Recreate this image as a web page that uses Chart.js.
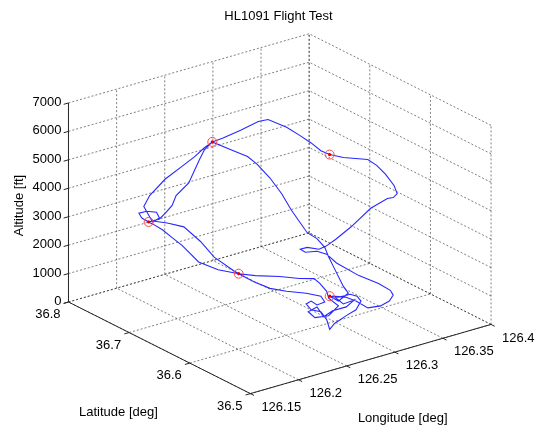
<!DOCTYPE html>
<html><head><meta charset="utf-8">
<script src="https://cdn.jsdelivr.net/npm/chart.js@4/dist/chart.umd.min.js"></script>
<style>html,body{margin:0;padding:0;background:#fff;}canvas{display:block;}</style>
</head><body>
<canvas id="c" width="537" height="430"></canvas>
<script>
// ---------- data ----------
const chartTitle = 'HL1091 Flight Test';
const lonTitle = 'Longitude [deg]';
const latTitle = 'Latitude [deg]';
const altTitle = 'Altitude [ft]';

const lonTicks = [126.15, 126.2, 126.25, 126.3, 126.35, 126.4];
const lonTickLabels = ['126.15', '126.2', '126.25', '126.3', '126.35', '126.4'];
const latTicks = [36.5, 36.6, 36.7, 36.8];
const latTickLabels = ['36.5', '36.6', '36.7', '36.8'];
const altTicks = [0, 1000, 2000, 3000, 4000, 5000, 6000, 7000];
const altTickLabels = ['0', '1000', '2000', '3000', '4000', '5000', '6000', '7000'];

// flight track (longitude deg, latitude deg, altitude ft)
const lon = [126.3304,126.3349,126.3465,126.3485,126.3447,126.3299,126.3158,126.2978,126.2869,126.2977,
  126.3041,126.3002,126.3046,126.3117,126.3105,126.3195,126.3246,126.3113,126.2896,126.2713,
  126.2543,126.2437,126.2203,126.2028,126.2023,126.1986,126.1987,126.1962,126.1961,126.1967,
  126.2012,126.2089,126.2141,126.2084,126.1987,126.1984,126.1978,126.2075,126.2165,126.2227,
  126.2258,126.2313,126.2397,126.2541,126.2736,126.2789,126.2846,126.2865,126.2878,126.2877,
  126.2922,126.3012,126.3185,126.3204,126.3221,126.3201,126.3155,126.3115,126.3101,126.3012,
  126.2938,126.2892,126.2849,126.2803,126.2788,126.2717,126.2748,126.2876,126.2940,126.3001,
  126.3170,126.3309,126.3371,126.3365,126.3299,126.3251,126.3216,126.3303,126.3358,126.3330,
  126.3292,126.3414,126.3273,126.3131,126.2996,126.3079,126.2957,126.2925,126.3041,126.3234,
  126.3272,126.3311,126.3294,126.3244,126.3073,126.2858,126.2596,126.2437,126.2406,126.2306,
  126.2272,126.2204,126.2071,126.2000,126.1961,126.2034,126.2074,126.2110,126.2153,126.2216,
  126.2296,126.2307,126.2313,126.2445,126.2615,126.2688,126.2780,126.2838,126.2872,126.2943,
  126.3042,126.3128,126.3176,126.3229,126.3336,126.3391,126.3298,126.3304];
const lat = [36.6556,36.6483,36.6474,36.6392,36.6267,36.6114,36.6051,36.5958,36.5866,36.6087,
  36.6284,36.6383,36.6535,36.6566,36.6450,36.6464,36.6609,36.6640,36.6619,36.6603,
  36.6608,36.6681,36.6648,36.6692,36.6958,36.7062,36.7224,36.7346,36.7410,36.7532,
  36.7651,36.7645,36.7566,36.7426,36.7386,36.7526,36.7420,36.7316,36.7184,36.7073,
  36.6962,36.6919,36.6875,36.6814,36.6832,36.6755,36.6540,36.6360,36.6186,36.6024,
  36.5951,36.5867,36.5739,36.5623,36.5505,36.5329,36.5207,36.5208,36.5282,36.5416,
  36.5621,36.5806,36.5899,36.5938,36.6108,36.6109,36.6077,36.6086,36.6028,36.5963,
  36.5861,36.5758,36.5663,36.5605,36.5565,36.5634,36.5787,36.6120,36.6384,36.6533,
  36.6312,36.6329,36.6233,36.6234,36.6165,36.6409,36.6360,36.6198,36.6156,36.6301,
  36.6522,36.6617,36.6703,36.6719,36.6690,36.6671,36.6659,36.6681,36.6713,36.6877,
  36.7048,36.7215,36.7278,36.7406,36.7410,36.7347,36.7314,36.7259,36.7262,36.7153,
  36.7103,36.7039,36.6919,36.6822,36.6817,36.6773,36.6709,36.6608,36.6501,36.6354,
  36.6350,36.6358,36.6369,36.6373,36.6381,36.6388,36.6402,36.6556];
const alt = [0,0,0,0,0,0,0,0,0,0,
  0,0,0,0,0,0,0,200,500,800,
  1200,1500,1900,2300,2600,2800,2900,3000,3000,3000,
  3000,3000,3000,3000,3000,3400,3900,4500,5000,5400,
  5800,6000,6100,6300,6400,6500,6400,6300,6200,6100,
  6000,5900,5800,5700,5500,5300,5200,5100,5000,4600,
  3800,3200,2900,2800,2700,2700,2600,2500,2400,2100,
  1600,1300,1100,1000,900,700,500,300,100,0,
  0,0,0,0,0,0,0,0,0,0,
  0,100,300,500,700,1000,1300,1500,1600,2000,
  2400,2800,3000,3000,3000,3100,3300,3600,3900,4400,
  5200,5600,6000,5700,5300,5000,4500,4000,3500,2800,
  2500,2100,1700,1300,500,200,0,0];

// waypoints (red markers)
const wpLon = [126.2313, 126.2922, 126.1961, 126.2437, 126.3304];
const wpLat = [36.6919, 36.5951, 36.7410, 36.6681, 36.6556];
const wpAlt = [6000, 6000, 3000, 1500, 0];

// ---------- view (orthographic 3-D box projected to the canvas plane) ----------
const LON0 = 126.15, LON1 = 126.4, LAT0 = 36.5, LAT1 = 36.8, ALT0 = 0, ALT1 = 7000;
const ORIGIN = [250, 398.3];          // front-bottom corner (LON0, LAT0, ALT0)
const VLON = [245.7, -71.0];          // full longitude span
const VLAT = [-185.7, -94.0];         // full latitude span
const VALT = [0, -204.3];             // full altitude span
function proj(lo, la, al) {
  const u = (lo - LON0) / (LON1 - LON0), v = (la - LAT0) / (LAT1 - LAT0), w = (al - ALT0) / (ALT1 - ALT0);
  return { x: ORIGIN[0] + u * VLON[0] + v * VLAT[0] + w * VALT[0],
           y: ORIGIN[1] + u * VLON[1] + v * VLAT[1] + w * VALT[1] };
}

const datasets = [];
const GRID = 'rgba(0,0,0,0.5)';
function seg(a, b, color, dash, order) {
  datasets.push({ data: [proj(...a), proj(...b)], showLine: true, borderColor: color, borderWidth: 1,
    borderDash: dash, pointRadius: 0, fill: false, tension: 0, order: order });
}
// floor grid
lonTicks.forEach(t => seg([t, LAT0, ALT0], [t, LAT1, ALT0], GRID, [2, 2], 10));
latTicks.forEach(t => seg([LON0, t, ALT0], [LON1, t, ALT0], GRID, [2, 2], 10));
// back wall lat = LAT1
lonTicks.forEach(t => seg([t, LAT1, ALT0], [t, LAT1, ALT1], GRID, [2, 2], 10));
altTicks.forEach(t => seg([LON0, LAT1, t], [LON1, LAT1, t], GRID, [2, 2], 10));
// side wall lon = LON1
latTicks.forEach(t => seg([LON1, t, ALT0], [LON1, t, ALT1], GRID, [2, 2], 10));
altTicks.forEach(t => seg([LON1, LAT0, t], [LON1, LAT1, t], GRID, [2, 2], 10));
// axis lines
const AX = '#262626';
seg([LON0, LAT1, ALT0], [LON0, LAT1, ALT1], AX, [], 5);
seg([LON0, LAT0, ALT0], [LON0, LAT1, ALT0], AX, [], 5);
seg([LON0, LAT0, ALT0], [LON1, LAT0, ALT0], AX, [], 5);
// tick marks (outward)
const dLon = (LON1 - LON0) * 0.02, dLat = (LAT1 - LAT0) * 0.02;
altTicks.forEach(t => seg([LON0, LAT1, t], [LON0 - dLon, LAT1, t], AX, [], 5));
latTicks.forEach(t => seg([LON0, t, ALT0], [LON0 - dLon, t, ALT0], AX, [], 5));
lonTicks.forEach(t => seg([t, LAT0, ALT0], [t, LAT0 - dLat, ALT0], AX, [], 5));

// flight path
datasets.push({ data: lon.map((v, i) => proj(v, lat[i], alt[i])), showLine: true,
  borderColor: 'rgb(40,40,255)', borderWidth: 1.1, borderDash: [], pointRadius: 0, tension: 0, order: 2 });
// waypoints
datasets.push({ data: wpLon.map((v, i) => proj(v, wpLat[i], wpAlt[i])), showLine: false,
  pointRadius: 4.5, pointBorderWidth: 1, pointBorderColor: 'rgb(255,70,70)',
  pointBackgroundColor: 'rgba(0,0,0,0)', order: 1 });
datasets.push({ data: wpLon.map((v, i) => proj(v, wpLat[i], wpAlt[i])), showLine: false,
  pointRadius: 1.6, pointBorderWidth: 0, pointBackgroundColor: 'rgb(220,0,0)', order: 0 });

// ---------- text ----------
const FONT = '13px "Liberation Sans", Arial, Helvetica, sans-serif';
const textPlugin = {
  id: 'text3d',
  afterDraw(chart) {
    const ctx = chart.ctx, sx = chart.scales.x, sy = chart.scales.y;
    const P = (lo, la, al) => { const p = proj(lo, la, al); return [sx.getPixelForValue(p.x), sy.getPixelForValue(p.y)]; };
    ctx.save();
    ctx.fillStyle = '#000';
    ctx.font = FONT;
    ctx.textBaseline = 'middle';
    ctx.textAlign = 'right';
    altTicks.forEach((t, i) => { const [x, y] = P(LON0, LAT1, t); ctx.fillText(altTickLabels[i], x - 7, y - 0.5); });
    latTicks.forEach((t, i) => { const [x, y] = P(LON0, t, ALT0); ctx.fillText(latTickLabels[i], x - 8, y + 12.5); });
    ctx.textAlign = 'left';
    lonTicks.forEach((t, i) => { const [x, y] = P(t, LAT0, ALT0); ctx.fillText(lonTickLabels[i], x + 11, y + 13.5); });
    ctx.textAlign = 'center';
    const [lx, ly] = P(LON0, (LAT0 + LAT1) / 2, ALT0);
    ctx.fillText(latTitle, lx - 41, ly + 65);
    const [gx, gy] = P((LON0 + LON1) / 2, LAT0, ALT0);
    ctx.fillText(lonTitle, gx + 32, gy + 59);
    const [zx, zy] = P(LON0, LAT1, (ALT0 + ALT1) / 2);
    ctx.save();
    ctx.translate(zx - 49, zy + 3);
    ctx.rotate(-Math.PI / 2);
    ctx.fillText(altTitle, 0, 0);
    ctx.restore();
    ctx.fillText(chartTitle, chart.width / 2 + 10, 16.5);
    ctx.restore();
  }
};

new Chart(document.getElementById('c'), {
  type: 'scatter',
  data: { datasets },
  options: {
    responsive: false, animation: false, devicePixelRatio: 1,
    layout: { padding: 0 },
    plugins: { legend: { display: false }, tooltip: { enabled: false }, title: { display: false } },
    scales: {
      x: { type: 'linear', min: 0, max: 537, display: false },
      y: { type: 'linear', min: 0, max: 430, reverse: true, display: false }
    }
  },
  plugins: [textPlugin]
});
</script>
</body></html>
